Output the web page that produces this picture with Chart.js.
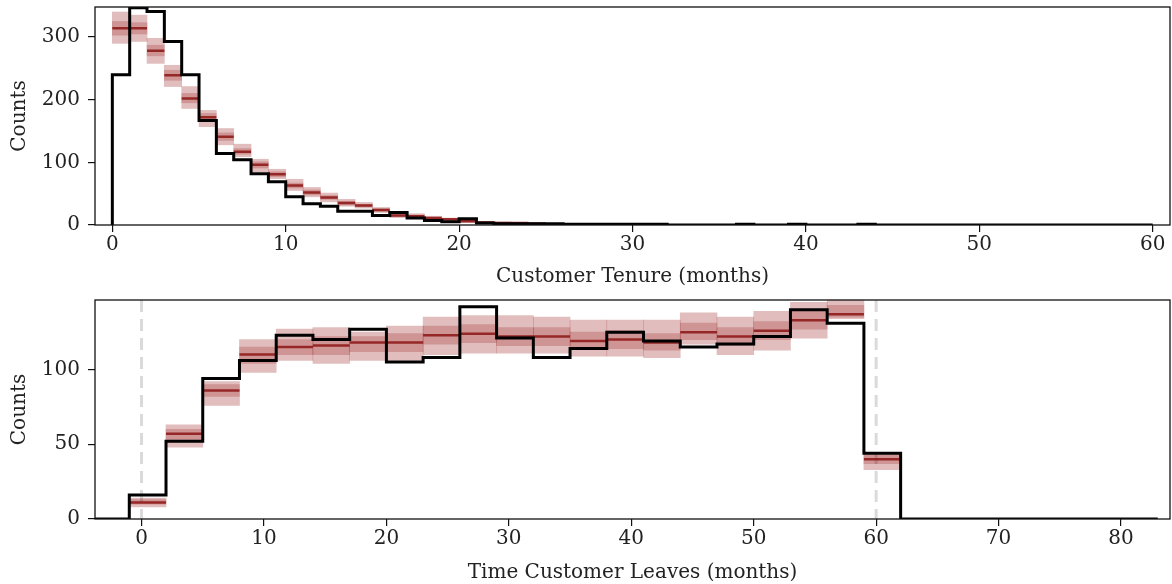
<!DOCTYPE html>
<html>
<head>
<meta charset="utf-8">
<script src="https://cdn.jsdelivr.net/npm/chart.js@4.4.1/dist/chart.umd.min.js"></script>
<style>
  body { margin: 0; background: #fff; }
  #wrap { position: relative; width: 1172px; height: 584px; }
  canvas { position: absolute; left: 0; }
</style>
</head>
<body>
<div id="wrap">
  <canvas id="tenure" width="1172" height="292" style="top:0"></canvas>
  <canvas id="leaves" width="1172" height="292" style="top:292px"></canvas>
</div>
<script>
'use strict';

// ---- top panel: customer tenure, 1-month bins ----
let tenureEdges = [0,1,2,3,4,5,6,7,8,9,10,11,12,13,14,15,16,17,18,19,20,
  21,22,23,24,25,26,27,28,29,30,31,32,33,34,35,36,37,38,39,40,
  41,42,43,44,45,46,47,48,49,50,51,52,53,54,55,56,57,58,59,60];
let tenureCounts = [240,347,341,293,240,167,114,104,82,69,45,34,30,22,22,15,20,11,7,5,
  10,3,2,2,2,2,1,1,1,1,1,1,0,0,0,0,1,0,0,1,0,0,0,1,0,0,0,0,0,0,0,0,0,0,0,0,0,0,0,0];

// posterior predictive bands for the first bins
let tenureMid  = [314,314,278,239,202,172,141,117,96,81,63,52,44,35,31,24,15,14,11,9,6,4,3,3,2];
let tenureLo95 = [290,293,258,221,186,157,128,109,85,74,55,45,37,30,27,20,12,11,8,6,4,3,2,1,1];
let tenureHi95 = [340,335,298,255,221,183,154,129,105,89,73,60,51,41,36,28,18,18,14,11,8,6,5,4,4];
let tenureLo50 = [303,305,270,231,195,167,135,113,91,77,59,48,41,32,29,22,13,12,10,8,5,3,2,2,1];
let tenureHi50 = [325,323,287,247,210,178,147,122,101,85,67,56,47,38,33,26,17,16,12,10,7,5,4,3,3];

let tenureXTicks = [0,10,20,30,40,50,60];
let tenureYTicks = [0,100,200,300];

// ---- bottom panel: time customer leaves, 3-month bins ----
let leavesEdges = [-1,2,5,8,11,14,17,20,23,26,29,32,35,38,41,44,47,50,53,56,59,62];
let leavesCounts = [16,52,94,106,123,120,127,105,108,142,121,108,114,125,119,115,117,122,140,131,44];
let leavesRange = [-4, 83]; // observed line runs flat at 0 outside the bins

let leavesMid  = [11,57,86,110,115,116,118,118,123,124,122,122,119,120,118,125,122,126,133,137,40];
let leavesLo95 = [8,48,76,98,106,104,106,106,110,111,111,111,109,109,108,117,110,113,121,134,33];
let leavesHi95 = [14,63,92,120,127,128,125,129,135,136,136,135,133,133,133,138,135,139,145,150,44];
let leavesLo50 = [10,53,82,104,110,110,112,112,117,118,116,116,114,114,113,120,116,120,127,135,37];
let leavesHi50 = [13,60,90,115,120,122,122,124,129,130,128,128,125,126,124,131,128,132,139,143,43];

let leavesXTicks = [0,10,20,30,40,50,60,70,80];
let leavesYTicks = [0,50,100];
let refLines = [0, 60];

Chart.defaults.font.family = "'DejaVu Serif', serif";
Chart.defaults.font.size = 20;
Chart.defaults.color = '#222';

// observed histogram as a step line (points at bin starts)
function stepPoints(edges, counts, from, to) {
  let pts = [{x: from, y: 0}];
  for (let i = 0; i < counts.length; i++) pts.push({x: edges[i], y: counts[i]});
  let last = edges[edges.length - 1];
  pts.push({x: last, y: counts[counts.length - 1]});
  pts.push({x: last, y: 0});
  pts.push({x: to, y: 0});
  return pts;
}

function bandBars(edges, lo, hi) {
  return lo.map((v, i) => ({x: (edges[i] + edges[i + 1]) / 2, y: [v, hi[i]]}));
}

function medianSegments(edges, mids) {
  let pts = [];
  mids.forEach((m, i) => {
    pts.push({x: edges[i], y: m}, {x: edges[i + 1], y: m}, {x: edges[i + 1], y: null});
  });
  return pts;
}

const frame = {
  id: 'frame',
  beforeDatasetsDraw(chart, args, opts) {
    let ctx = chart.ctx, a = chart.chartArea, xs = chart.scales.x;
    (opts.refs || []).forEach(v => {
      let px = xs.getPixelForValue(v);
      ctx.save();
      ctx.strokeStyle = 'rgba(218,218,218,1)';
      ctx.lineWidth = 3;
      ctx.setLineDash([12, 7]);
      ctx.beginPath();
      ctx.moveTo(px, a.top);
      ctx.lineTo(px, a.bottom);
      ctx.stroke();
      ctx.restore();
    });
  },
  afterDraw(chart) {
    let ctx = chart.ctx, a = chart.chartArea;
    ctx.save();
    ctx.strokeStyle = '#111';
    ctx.lineWidth = 1.3;
    ctx.strokeRect(a.left, a.top, a.right - a.left, a.bottom - a.top);
    ctx.restore();
  }
};

function makeChart(id, cfg) {
  let edges = cfg.edges;
  return new Chart(document.getElementById(id), {
    type: 'bar',
    data: {
      datasets: [
        {
          type: 'line',
          data: stepPoints(edges, cfg.counts, cfg.from, cfg.to),
          stepped: 'before',
          borderColor: '#000',
          borderWidth: 3,
          pointRadius: 0,
          fill: false,
          order: 0
        },
        {
          type: 'line',
          data: medianSegments(edges, cfg.mid),
          borderColor: 'rgba(140,20,20,0.85)',
          borderWidth: 2.5,
          pointRadius: 0,
          fill: false,
          spanGaps: false,
          order: 1
        },
        {
          data: bandBars(edges, cfg.lo50, cfg.hi50),
          backgroundColor: 'rgba(139,0,0,0.22)',
          grouped: false,
          barPercentage: 1,
          categoryPercentage: 1,
          borderWidth: 0,
          order: 2
        },
        {
          data: bandBars(edges, cfg.lo95, cfg.hi95),
          backgroundColor: 'rgba(139,0,0,0.26)',
          grouped: false,
          barPercentage: 1,
          categoryPercentage: 1,
          borderWidth: 0,
          order: 3
        }
      ]
    },
    options: {
      responsive: false,
      animation: false,
      devicePixelRatio: 1,
      layout: {padding: {top: cfg.padTop, right: 2, left: 0, bottom: 0}},
      plugins: {
        legend: {display: false},
        tooltip: {enabled: false},
        frame: {refs: cfg.refs}
      },
      scales: {
        x: {
          type: 'linear',
          offset: false,
          min: cfg.xmin,
          max: cfg.xmax,
          afterBuildTicks: s => { s.ticks = cfg.xticks.map(v => ({value: v})); },
          afterFit: s => { s.height = cfg.xHeight; s.paddingLeft = 0; s.paddingRight = 0; },
          grid: {offset: false, drawOnChartArea: false, drawTicks: true, tickLength: 7, color: '#111', lineWidth: 1.2},
          border: {display: false},
          ticks: {padding: 1},
          title: {display: true, text: cfg.xTitle, padding: {top: 0, bottom: cfg.titlePad}}
        },
        y: {
          min: 0,
          max: cfg.ymax,
          afterBuildTicks: s => { s.ticks = cfg.yticks.map(v => ({value: v})); },
          afterFit: s => { s.width = 95; s.paddingTop = 0; s.paddingBottom = 0; },
          grid: {drawOnChartArea: false, drawTicks: true, tickLength: 7, color: '#111', lineWidth: 1.2},
          border: {display: false},
          ticks: {padding: 8},
          title: {display: true, text: 'Counts', padding: {top: 8, bottom: 0}}
        }
      }
    },
    plugins: [frame]
  });
}

makeChart('tenure', {
  edges: tenureEdges, counts: tenureCounts, from: 0, to: 60,
  mid: tenureMid, lo95: tenureLo95, hi95: tenureHi95, lo50: tenureLo50, hi50: tenureHi50,
  xmin: -1, xmax: 61, ymax: 348, xticks: tenureXTicks, yticks: tenureYTicks,
  padTop: 7, xHeight: 67, xTitle: 'Customer Tenure (months)', titlePad: 3, refs: []
});

makeChart('leaves', {
  edges: leavesEdges, counts: leavesCounts, from: leavesRange[0], to: leavesRange[1],
  mid: leavesMid, lo95: leavesLo95, hi95: leavesHi95, lo50: leavesLo50, hi50: leavesHi50,
  xmin: -3.8, xmax: 84, ymax: 146.5, xticks: leavesXTicks, yticks: leavesYTicks,
  padTop: 8, xHeight: 65, xTitle: 'Time Customer Leaves (months)', titlePad: -1, refs: refLines
});
</script>
</body>
</html>
